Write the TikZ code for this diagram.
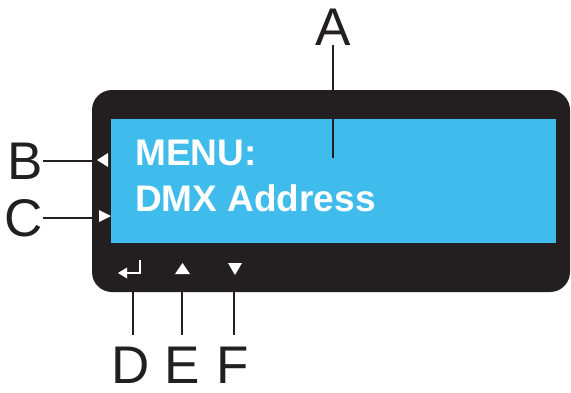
\documentclass[tikz,border=0pt]{standalone}
\usepackage{fontspec}
\setmainfont{Liberation Sans}
\usepackage{tikz}

\definecolor{lcdblue}{RGB}{63,188,236}
\definecolor{bodyblack}{RGB}{35,31,32}

\begin{document}
\begin{tikzpicture}[x=1pt, y=-1pt,
    lbl/.style={inner sep=0pt, font=\fontsize{53}{53}\selectfont, text=bodyblack},
    lcdtext/.style={inner sep=0pt, anchor=base west, text=white, font=\fontsize{37}{37}\selectfont\bfseries},
    lead/.style={draw=bodyblack, line width=2.2pt},
    mark/.style={fill=white}]
    \useasboundingbox (0,0) rectangle (571,392);

    % Housing and display
    \fill[bodyblack, rounded corners=20pt] (92,90) rectangle (570,292);
    \fill[lcdblue] (111,119) rectangle (556,243);
    \node[lcdtext] (menu) at (135,165) {MENU:};
    \node[lcdtext] (addr) at (135,211) {DMX Address};

    % Side markers
    \fill[white] (97,160) -- (108,153) -- (108,167) -- cycle;
    \fill[white] (111,216) -- (99,210) -- (99,222) -- cycle;

    % Keys
    \draw[white, line width=2.4pt] (140,260) -- (140,273) -- (126,273);
    \fill[white] (118,273) -- (127,267.5) -- (127,278.5) -- cycle;
    \fill[white] (182.5,263) -- (190,274) -- (175,274) -- cycle;
    \fill[white] (235,275) -- (242,263) -- (228,263) -- cycle;

    % Labels
    \node[lbl] (A) at (333,27) {A};
    \node[lbl, anchor=east] (B) at (43,161) {B};
    \node[lbl, anchor=east] (C) at (43,218) {C};
    \node[lbl, anchor=north] (D) at (131,347) {D};
    \node[lbl, anchor=north] (E) at (182,347) {E};
    \node[lbl, anchor=north] (F) at (233,347) {F};

    \coordinate (aPt) at (333,158);
    \coordinate (bPt) at (93,161);
    \coordinate (cPt) at (93,218);
    \coordinate (dKey) at (133,292);
    \coordinate (eKey) at (182,292);
    \coordinate (fKey) at (234,292);

    % Leaders
    \draw[lead] (A.south) -- (aPt);
    \draw[lead] (B.east) -- (bPt);
    \draw[lead] (C.east) -- (cPt);
    \draw[lead, shorten >=12pt] (dKey) -- (dKey |- D.north);
    \draw[lead, shorten >=12pt] (eKey) -- (eKey |- E.north);
    \draw[lead, shorten >=12pt] (fKey) -- (fKey |- F.north);
\end{tikzpicture}
\end{document}
